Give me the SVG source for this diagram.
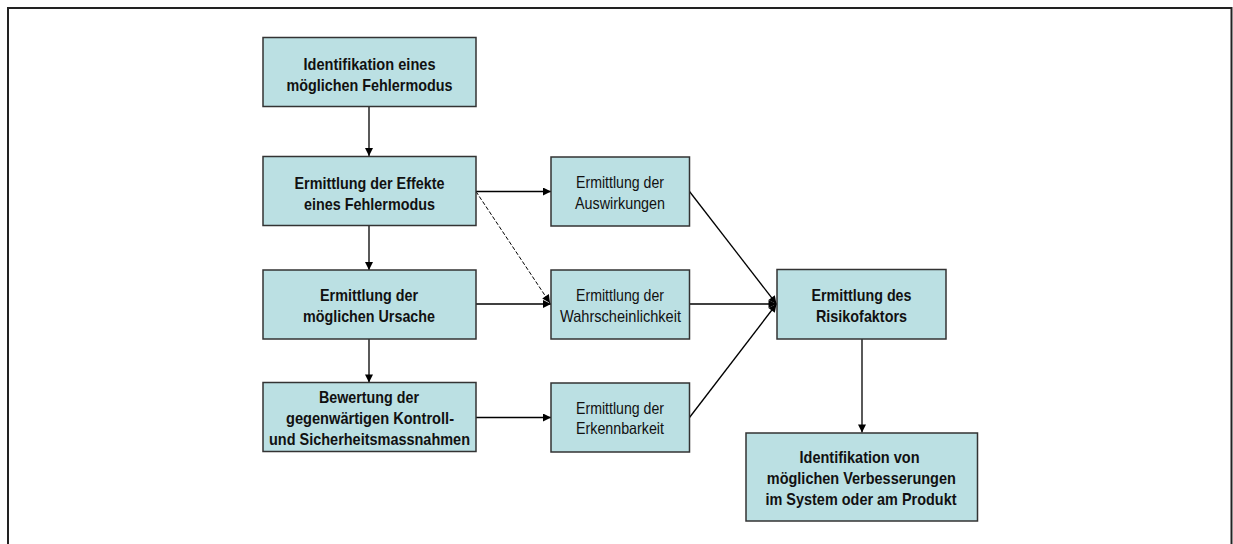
<svg xmlns="http://www.w3.org/2000/svg" width="1233" height="544" viewBox="0 0 1233 544">
  <style>
    .box { fill: #bbe0e3; stroke: #333333; stroke-width: 1.5; }
    .lbl { font-family: "Liberation Sans", Arial, sans-serif; font-size: 16.5px; fill: #111111; text-anchor: middle; }
    .b { font-weight: bold; }
    .edge { stroke: #000000; stroke-width: 1.3; fill: none; }
    .dash { stroke-dasharray: 4 2; stroke-width: 1; }
  </style>
  <defs>
    <marker id="arrow" viewBox="0 0 10 10" refX="10" refY="5" markerWidth="9" markerHeight="8" markerUnits="userSpaceOnUse" orient="auto">
      <path d="M0,0 L10,5 L0,10 Z" fill="#000000"/>
    </marker>
  </defs>

  <rect width="1233" height="544" fill="#ffffff"/>
  <!-- outer frame, open at the bottom -->
  <path d="M8,544 L8,8 L1231.5,8 L1231.5,544" fill="none" stroke="#222222" stroke-width="2"/>

  <g id="connectors">
    <line class="edge" x1="369" y1="107" x2="369" y2="156" marker-end="url(#arrow)"/>
    <line class="edge" x1="369" y1="225" x2="369" y2="270" marker-end="url(#arrow)"/>
    <line class="edge" x1="369" y1="339" x2="369" y2="382.5" marker-end="url(#arrow)"/>
    <line class="edge" x1="476" y1="191.5" x2="551" y2="191.5" marker-end="url(#arrow)"/>
    <line class="edge dash" x1="476" y1="191.5" x2="550" y2="303" marker-end="url(#arrow)"/>
    <line class="edge" x1="476" y1="304" x2="551" y2="304" marker-end="url(#arrow)"/>
    <line class="edge" x1="476" y1="417.5" x2="551" y2="417.5" marker-end="url(#arrow)"/>
    <line class="edge" x1="689.5" y1="191.5" x2="776.5" y2="304" marker-end="url(#arrow)"/>
    <line class="edge" x1="689.5" y1="304" x2="776.5" y2="304" marker-end="url(#arrow)"/>
    <line class="edge" x1="689.5" y1="417.5" x2="776.5" y2="304" marker-end="url(#arrow)"/>
    <line class="edge" x1="862" y1="339" x2="862" y2="432.5" marker-end="url(#arrow)"/>
  </g>

  <g id="fehlermodus">
    <rect class="box" x="263" y="37.5" width="213" height="69"/>
    <text class="lbl b" x="369.5" y="70" textLength="132" lengthAdjust="spacingAndGlyphs">Identifikation eines</text>
    <text class="lbl b" x="369.5" y="90.5" textLength="166" lengthAdjust="spacingAndGlyphs">möglichen Fehlermodus</text>
  </g>
  <g id="effekte">
    <rect class="box" x="263" y="156.5" width="213" height="69"/>
    <text class="lbl b" x="369.5" y="189" textLength="150" lengthAdjust="spacingAndGlyphs">Ermittlung der Effekte</text>
    <text class="lbl b" x="369.5" y="209.5" textLength="131" lengthAdjust="spacingAndGlyphs">eines Fehlermodus</text>
  </g>
  <g id="ursache">
    <rect class="box" x="263" y="270" width="213" height="69"/>
    <text class="lbl b" x="369" y="301" textLength="98" lengthAdjust="spacingAndGlyphs">Ermittlung der</text>
    <text class="lbl b" x="369" y="321.5" textLength="132" lengthAdjust="spacingAndGlyphs">möglichen Ursache</text>
  </g>
  <g id="kontrolle">
    <rect class="box" x="263" y="382.5" width="213" height="69"/>
    <text class="lbl b" x="369" y="403" textLength="100" lengthAdjust="spacingAndGlyphs">Bewertung der</text>
    <text class="lbl b" x="370" y="424" textLength="168" lengthAdjust="spacingAndGlyphs">gegenwärtigen Kontroll-</text>
    <text class="lbl b" x="369.5" y="445" textLength="201" lengthAdjust="spacingAndGlyphs">und Sicherheitsmassnahmen</text>
  </g>
  <g id="auswirkungen">
    <rect class="box" x="551" y="157" width="138.5" height="69"/>
    <text class="lbl" x="620" y="188" textLength="88" lengthAdjust="spacingAndGlyphs">Ermittlung der</text>
    <text class="lbl" x="620" y="208.5" textLength="90" lengthAdjust="spacingAndGlyphs">Auswirkungen</text>
  </g>
  <g id="wahrscheinlichkeit">
    <rect class="box" x="551" y="270" width="138.5" height="69"/>
    <text class="lbl" x="620" y="301" textLength="88" lengthAdjust="spacingAndGlyphs">Ermittlung der</text>
    <text class="lbl" x="620.5" y="321.5" textLength="121" lengthAdjust="spacingAndGlyphs">Wahrscheinlichkeit</text>
  </g>
  <g id="erkennbarkeit">
    <rect class="box" x="551" y="383" width="138.5" height="69"/>
    <text class="lbl" x="620" y="413.5" textLength="88" lengthAdjust="spacingAndGlyphs">Ermittlung der</text>
    <text class="lbl" x="620" y="434" textLength="88" lengthAdjust="spacingAndGlyphs">Erkennbarkeit</text>
  </g>
  <g id="risikofaktor">
    <rect class="box" x="777" y="269.5" width="169" height="69.5"/>
    <text class="lbl b" x="861.5" y="301" textLength="100" lengthAdjust="spacingAndGlyphs">Ermittlung des</text>
    <text class="lbl b" x="861.5" y="321.5" textLength="91" lengthAdjust="spacingAndGlyphs">Risikofaktors</text>
  </g>
  <g id="verbesserungen">
    <rect class="box" x="746" y="433" width="231.5" height="88"/>
    <text class="lbl b" x="859.5" y="463" textLength="120" lengthAdjust="spacingAndGlyphs">Identifikation von</text>
    <text class="lbl b" x="861.3" y="483.5" textLength="189" lengthAdjust="spacingAndGlyphs">möglichen Verbesserungen</text>
    <text class="lbl b" x="861" y="505" textLength="191" lengthAdjust="spacingAndGlyphs">im System oder am Produkt</text>
  </g>
</svg>
